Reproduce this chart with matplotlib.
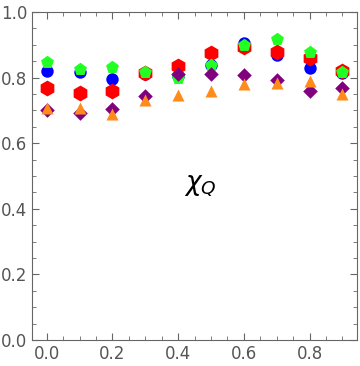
import matplotlib
matplotlib.use("Agg")
import matplotlib.pyplot as plt
from matplotlib.ticker import MultipleLocator

# x positions shared by all series
x = [0.0, 0.1, 0.2, 0.3, 0.4, 0.5, 0.6, 0.7, 0.8, 0.9]

blue = [0.820, 0.816, 0.796, 0.812, 0.806, 0.840, 0.905, 0.869, 0.830, 0.813]
red = [0.770, 0.752, 0.760, 0.814, 0.837, 0.876, 0.892, 0.879, 0.859, 0.821]
green = [0.848, 0.825, 0.833, 0.816, 0.800, 0.840, 0.899, 0.919, 0.877, 0.818]
purple = [0.700, 0.691, 0.704, 0.744, 0.810, 0.811, 0.808, 0.793, 0.758, 0.770]
orange = [0.706, 0.706, 0.689, 0.732, 0.747, 0.760, 0.780, 0.785, 0.790, 0.750]

fig = plt.figure(figsize=(3.6, 3.66), dpi=100)
ax = fig.add_axes([0.089, 0.071, 0.903, 0.896])

# drawing order matters for overlaps
ax.scatter(x, blue, s=80, marker="o", color="#0000ff", lw=0, zorder=3)
ax.scatter(x, red, s=130, marker="h", color="#ff0000", lw=0, zorder=4)
ax.scatter(x, green, s=95, marker="p", color="#22ff22", lw=0, zorder=5)
ax.scatter(x, purple, s=55, marker="D", color="#800080", lw=0, zorder=6)
ax.scatter(x, orange, s=75, marker="^", color="#ff8c1a", lw=0, zorder=7)

ax.text(0.466, 0.47, r"$\chi_Q$", fontsize=19, ha="center", va="center")

ax.set_xlim(-0.045, 0.945)
ax.set_ylim(0, 1)
ax.xaxis.set_major_locator(MultipleLocator(0.2))
ax.xaxis.set_minor_locator(MultipleLocator(0.05))
ax.yaxis.set_major_locator(MultipleLocator(0.2))
ax.yaxis.set_minor_locator(MultipleLocator(0.05))
ax.xaxis.set_major_formatter(lambda v, p: f"{v:.1f}")
ax.yaxis.set_major_formatter(lambda v, p: f"{v:.1f}")

gray = "#666666"
for s in ax.spines.values():
    s.set_color(gray)
ax.tick_params(which="both", direction="in", top=True, right=True, color=gray,
               labelcolor="#555555", labelsize=12)
ax.tick_params(which="major", length=5)
ax.tick_params(which="minor", length=3)

plt.savefig("out.png", dpi=100)
